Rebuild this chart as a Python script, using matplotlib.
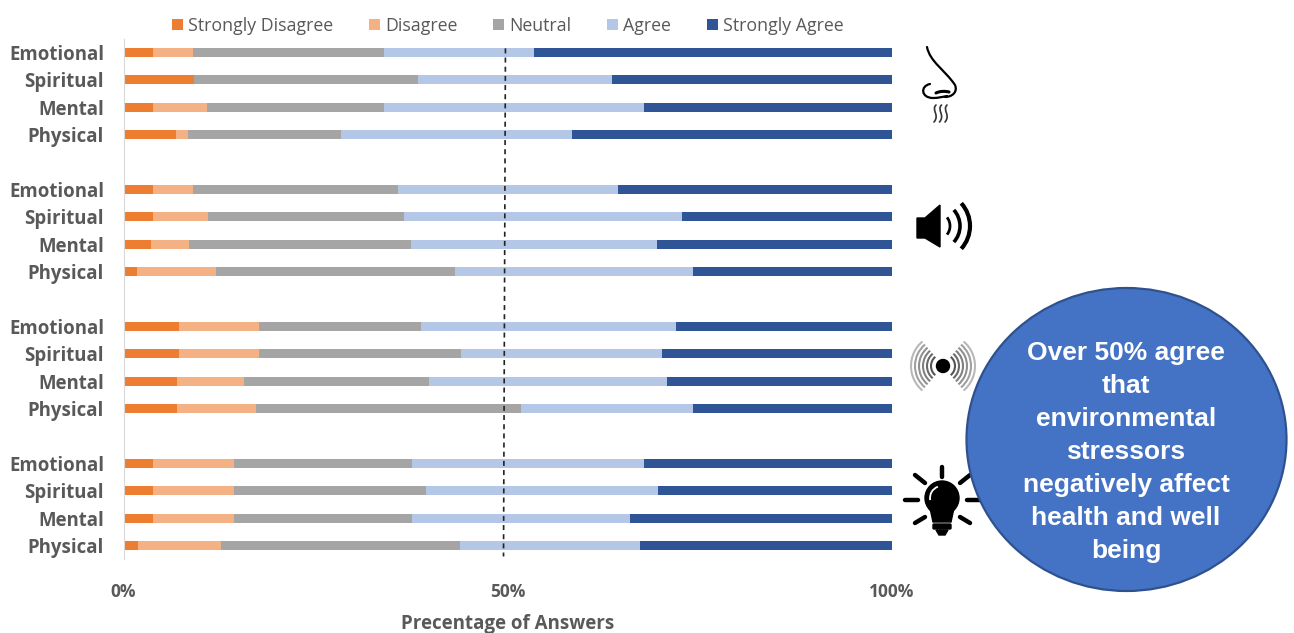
import numpy as np
import matplotlib.pyplot as plt
from matplotlib.patches import Arc, Circle, Ellipse, PathPatch, Polygon, FancyBboxPatch
from matplotlib.path import Path

#===========================================
# data, one row per dimension, top group first
dimensions = ['Emotional', 'Spiritual', 'Mental', 'Physical']
answers = ['Strongly Disagree', 'Disagree', 'Neutral', 'Agree', 'Strongly Agree']
colors = ['#ED7D31', '#F4B183', '#A5A5A5', '#B4C7E7', '#2F5597']

strongly_disagree = [3.8, 9.2, 3.8, 6.8, 3.8, 3.8, 3.6, 1.8, 7.2, 7.2, 7.0, 7.0, 3.8, 3.8, 3.8, 1.9]
disagree = [5.2, 0.0, 7.1, 1.6, 5.2, 7.2, 4.9, 10.2, 10.4, 10.4, 8.7, 10.2, 10.6, 10.6, 10.6, 10.8]
neutral = [24.9, 29.1, 23.0, 19.9, 26.7, 25.5, 28.9, 31.1, 21.1, 26.3, 24.1, 34.5, 23.1, 25.0, 23.1, 31.1]
agree = [19.5, 25.3, 33.8, 30.1, 28.6, 36.2, 32.0, 31.0, 33.2, 26.2, 30.9, 22.4, 30.2, 30.2, 28.4, 23.4]
strongly_agree = [46.6, 36.4, 32.3, 41.6, 35.7, 27.3, 30.6, 25.9, 28.1, 29.9, 29.3, 25.9, 32.3, 30.4, 34.1, 32.8]

tick_values = [0, 50, 100]
tick_labels = ['0%', '50%', '100%']

plt.rcParams['font.family'] = ['Open Sans', 'DejaVu Sans']
GRAY = '#595959'

fig = plt.figure(figsize=(12.94, 6.33), dpi=100)
W, H = 1294, 633
ax = fig.add_axes([123.5 / W, 1 - 559.2 / H, (892 - 123.5) / W, (559.2 - 38.8) / H])

# four groups of four bars with an empty slot between them
rows = np.array([g * 5 + i for g in range(4) for i in range(4)])
series = [strongly_disagree, disagree, neutral, agree, strongly_agree]
left = np.zeros(len(rows))
for name, vals, col in zip(answers, series, colors):
    ax.barh(rows, vals, left=left, height=0.33, color=col, label=name)
    left += np.array(vals)

ax.set_xlim(0, 100)
ax.set_ylim(18.5, -0.5)
ax.set_yticks(rows)
ax.set_yticklabels(dimensions * 4, fontsize=13.4, fontweight='bold', color=GRAY)
ax.set_xticks(tick_values)
ax.set_xticklabels(tick_labels, fontsize=12.5, fontweight='bold', color=GRAY)
ax.tick_params(axis='both', length=0)
ax.tick_params(axis='y', pad=14)
ax.tick_params(axis='x', pad=17)
ax.set_xlabel('Precentage of Answers', fontsize=13.5, fontweight='bold', color=GRAY, labelpad=9.7)
for s in ['top', 'right', 'bottom']:
    ax.spines[s].set_visible(False)
ax.spines['left'].set_color('#D9D9D9')

# 50% reference line
ax.plot([49.7, 49.45], [-0.15, 18.4], color='#222222', lw=1.2, ls=(0, (3, 2.5)), zorder=5)

leg = ax.legend(loc='center', bbox_to_anchor=(0.4999, 1.0255), ncol=5, frameon=False, fontsize=12.8,
                labelcolor=GRAY, handlelength=0.62, handleheight=0.62, handletextpad=0.3,
                columnspacing=2.0, borderpad=0, borderaxespad=0)

#===========================================
# overlay in pixel units for the icons and the callout
ov = fig.add_axes([0, 0, 1, 1], facecolor='none')
ov.set_xlim(0, W)
ov.set_ylim(H, 0)
ov.axis('off')


def curve(points, lw, color='black'):
    codes = [Path.MOVETO] + [Path.CURVE4] * (len(points) - 1)
    ov.add_patch(PathPatch(Path(points, codes), fill=False, lw=lw, color=color, capstyle='round'))


# nose
curve([(927, 47), (930, 62), (945, 70), (955, 85), (958, 92), (952, 97), (945, 97)], 1.6)
curve([(930, 84), (920, 86), (921, 98), (933, 98), (938, 98), (942, 97), (947, 96)], 1.6)
curve([(936, 93), (940, 91), (945, 91), (949, 92)], 2.2)
for x0 in [936, 941.5, 947]:
    curve([(x0, 105), (x0 - 5, 110), (x0 + 4, 115), (x0 - 2, 122)], 1.2, '#333333')

# speaker
ov.add_patch(Polygon([(917, 218), (925, 218), (940, 205), (940, 247), (925, 238), (917, 238)], color='black'))
for r, a, lw in [(14, 38, 2.0), (24, 42, 2.6), (34, 42, 3.0)]:
    ov.add_patch(Arc((936, 226), 2 * r, 2 * r, theta1=-a, theta2=a, lw=lw, color='black'))

# radio waves
ov.add_patch(Circle((943, 366), 6.5, color='black'))
for r, g in [(12, '#555555'), (16, '#6a6a6a'), (20, '#808080'), (24, '#909090'), (28, '#a0a0a0'), (32, '#b8b8b8')]:
    ov.add_patch(Arc((943, 366), 2 * r, 2 * r, theta1=-50, theta2=50, lw=1.5, color=g))
    ov.add_patch(Arc((943, 366), 2 * r, 2 * r, theta1=130, theta2=230, lw=1.5, color=g))

# light bulb
for x0, y0, x1, y1 in [(942, 467, 942, 477), (915, 475, 925, 483), (905, 500, 918, 500),
                       (915, 523, 925, 517), (970, 475, 960, 483), (967, 500, 980, 500),
                       (960, 517, 970, 523)]:
    ov.plot([x0, x1], [y0, y1], color='black', lw=3.2, solid_capstyle='round')
ov.add_patch(Circle((942, 498), 17, color='black'))
ov.add_patch(Polygon([(930, 508), (954, 508), (951, 522), (933, 522)], color='black'))
ov.add_patch(FancyBboxPatch((934, 525), 16, 3, boxstyle='round,pad=1', color='black'))
ov.add_patch(Polygon([(936, 530), (948, 530), (945, 535), (939, 535)], color='black'))
ov.add_patch(Arc((942, 498), 24, 24, theta1=170, theta2=250, lw=1.3, color='white'))

# callout
ov.add_patch(Ellipse((1126.5, 439.5), 320, 303, facecolor='#4472C4', edgecolor='#2F528F', lw=1.6, zorder=6))
callout = ['Over 50% agree', 'that', 'environmental', 'stressors', 'negatively affect', 'health and well', 'being']
for i, line in enumerate(callout):
    ov.text(1126, 353 + i * 33, line, ha='center', va='center', color='white', fontsize=19,
            fontweight='bold', family='Liberation Sans', zorder=7)

fig.savefig('out.png', dpi=100)
